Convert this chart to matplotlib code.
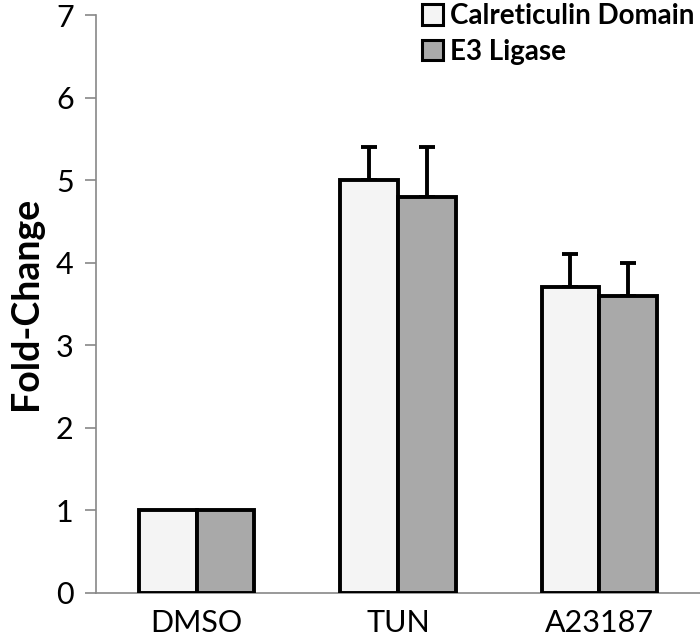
import matplotlib
matplotlib.use("Agg")
import matplotlib.pyplot as plt
import numpy as np

categories = ["DMSO", "TUN", "A23187"]
series_names = ["Calreticulin Domain", "E3 Ligase"]
calreticulin = [1.0, 5.0, 3.7]
calreticulin_err = [0.0, 0.4, 0.4]
e3_ligase = [1.0, 4.8, 3.6]
e3_ligase_err = [0.0, 0.6, 0.4]
yticks = [0, 1, 2, 3, 4, 5, 6, 7]

plt.rcParams['font.family'] = ['Lato', 'DejaVu Sans']

fig = plt.figure(figsize=(7, 6.44), dpi=100)
ax = fig.add_axes([0.137, 0.0797, 0.863, 0.897])

x = np.arange(len(categories))
w = 0.287
colors = ["#f4f4f4", "#a9a9a9"]
for vals, errs, off, col, name in [(calreticulin, calreticulin_err, -w/2, colors[0], series_names[0]),
                                    (e3_ligase, e3_ligase_err, w/2, colors[1], series_names[1])]:
    ax.bar(x + off, vals, width=w, color=col, edgecolor="black", linewidth=2.8, label=name, zorder=3)
    e = np.array(errs)
    mask = e > 0
    ax.errorbar((x + off)[mask], np.array(vals)[mask], yerr=[np.zeros(mask.sum()), e[mask]],
                fmt="none", ecolor="black", elinewidth=2.8, capsize=5.5, capthick=2.8, zorder=2)

ax.set_xlim(-0.5, 2.5)
ax.set_ylim(0, 7)
ax.set_yticks(yticks)
ax.set_xticks(x)
ax.set_xticklabels(categories)
ax.tick_params(axis="x", length=0, labelsize=22, pad=12)
ax.tick_params(axis="y", length=8, width=1.2, color="#888888", labelsize=22, pad=8, direction="out")
for s in ["top", "right"]:
    ax.spines[s].set_visible(False)
for s in ["left", "bottom"]:
    ax.spines[s].set_color("#888888")
    ax.spines[s].set_linewidth(1.2)

ax.set_ylabel("Fold-Change", fontsize=27, fontweight="bold", labelpad=9)

leg = ax.legend(loc="upper right", bbox_to_anchor=(1.0, 1.03), frameon=False,
                prop={"size": 20, "weight": "bold"}, handlelength=0.75, handleheight=0.75,
                handletextpad=0.25, labelspacing=0.35, borderaxespad=0.0, borderpad=0.2)
for h in leg.legend_handles:
    h.set_linewidth(2.2)

fig.savefig("out.png", dpi=100)
